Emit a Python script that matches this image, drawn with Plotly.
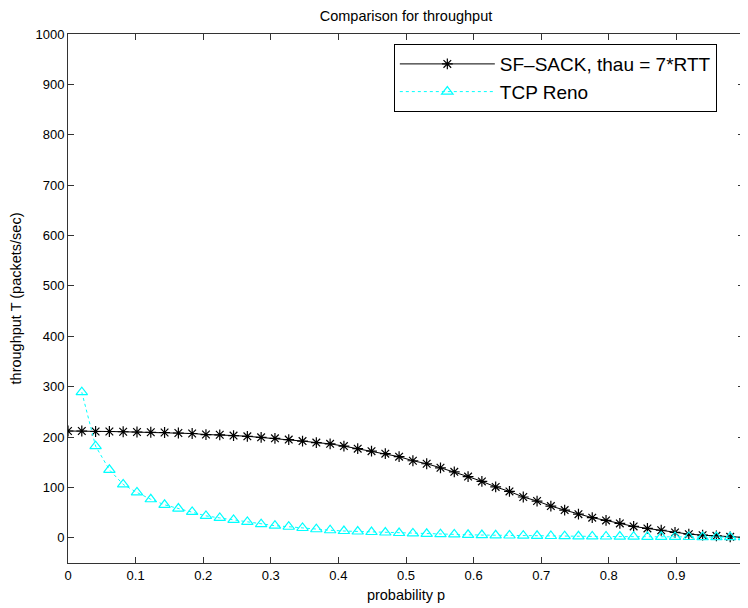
import numpy as np
import plotly.graph_objects as go

# x grid: 50 evenly spaced probabilities from 0 to 1
p_values = np.linspace(0, 1, 50).tolist()

sf_sack = [212, 212, 211, 211, 210.5, 210, 209.5, 209, 208, 207,
           205, 204.5, 203, 201.5, 199.5, 197.5, 195, 192, 189, 186.5,
           182, 177, 172, 167, 161, 153, 147, 139, 131, 121.5,
           112, 101, 92, 81, 73, 63, 55, 47, 40, 34.5,
           28.5, 22.6, 18.6, 15, 10.7, 7.3, 5.3, 4, 2, 0.8]

# TCP Reno is defined from the second grid point on
tcp_reno = [289, 182, 135, 106, 90, 76.5, 65.5, 58, 51.5,
            43.5, 39.5, 35.5, 31.5, 27, 24, 22, 19.5, 17, 15,
            13.5, 12.5, 11.5, 10.5, 9.5, 8.7, 8, 7.3, 6.7, 6,
            5.5, 5, 4.6, 4.2, 3.9, 3.6, 3.3, 3.0, 2.8, 2.6,
            2.4, 2.2, 2.0, 1.9, 1.8, 1.6, 1.5, 1.4, 1.3, 1.2]

x_ticks = [0, 0.1, 0.2, 0.3, 0.4, 0.5, 0.6, 0.7, 0.8, 0.9, 1]
x_tick_labels = ["0", "0.1", "0.2", "0.3", "0.4", "0.5", "0.6", "0.7", "0.8", "0.9", "1"]
y_ticks = [0, 100, 200, 300, 400, 500, 600, 700, 800, 900, 1000]

FONT = "Liberation Sans, Arial, sans-serif"

fig = go.Figure()
fig.add_trace(go.Scatter(
    x=p_values, y=sf_sack, mode="lines+markers",
    name="SF\u2013SACK, thau = 7*RTT",
    line=dict(color="black", width=1),
    marker=dict(symbol="asterisk-open", size=9, color="black",
                line=dict(color="black", width=1.2)),
))
fig.add_trace(go.Scatter(
    x=p_values[1:], y=tcp_reno, mode="lines+markers",
    name="TCP Reno",
    line=dict(color="#00FFFF", width=1, dash="dot"),
    marker=dict(symbol="triangle-up-open", size=10, color="#00FFFF",
                line=dict(color="#00FFFF", width=1.2)),
))

axis_common = dict(
    showline=True, linecolor="#333333", linewidth=1, mirror="ticks",
    ticks="inside", ticklen=6, tickcolor="#333333", tickwidth=1,
    showgrid=False, zeroline=False, automargin=False,
    ticklabeloverflow="allow",
    tickfont=dict(family=FONT, size=13, color="black"),
)

# the page body adds an 8px offset; plot area spans page x 68..744, y 34..563
fig.update_layout(
    width=744, height=600,
    margin=dict(l=60, r=8, t=26, b=45),
    paper_bgcolor="white", plot_bgcolor="white",
    font=dict(family=FONT, color="black"),
    title=dict(text="Comparison for throughput", x=398 / 744, xanchor="center",
               y=1 - 7.5 / 600, yanchor="middle", yref="container",
               font=dict(family=FONT, size=14.5, color="black")),
    xaxis=dict(range=[0, 1], tickvals=x_ticks, ticktext=x_tick_labels,
               title=dict(text="probability p", standoff=8,
                          font=dict(family=FONT, size=14.5)),
               **axis_common),
    yaxis=dict(range=[-50, 1000], tickvals=y_ticks,
               title=dict(text="throughput T (packets/sec)", standoff=17,
                          font=dict(family=FONT, size=14.5)),
               **axis_common),
    legend=dict(x=0.482, y=0.981, xanchor="left", yanchor="top",
                bgcolor="white", bordercolor="black", borderwidth=1,
                font=dict(family=FONT, size=19, color="black"),
                itemwidth=95, tracegroupgap=0),
    showlegend=True,
)

fig.write_html("out.html")
